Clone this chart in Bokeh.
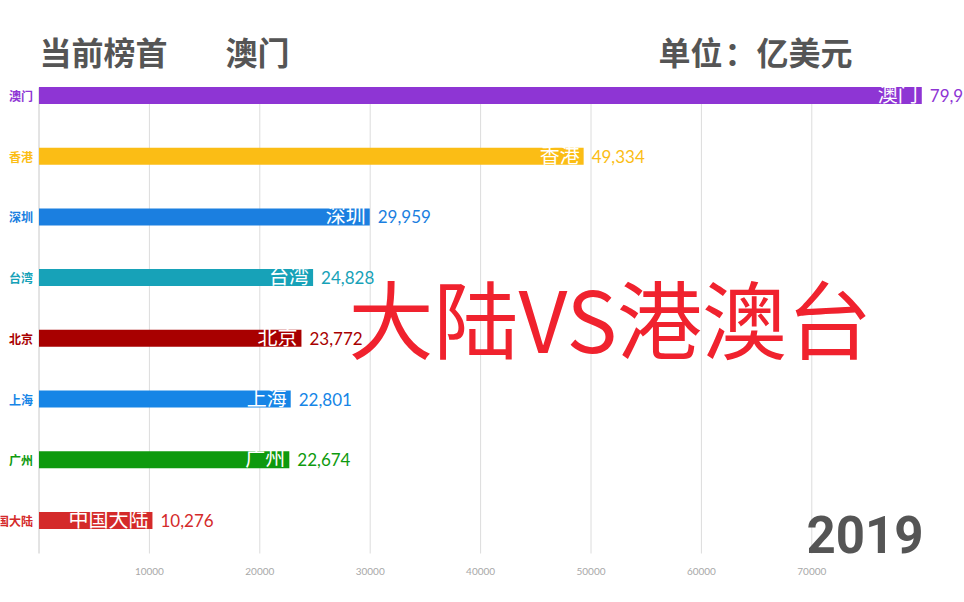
from bokeh.plotting import figure
from bokeh.models import Range1d, FixedTicker, ColumnDataSource
from bokeh.core.properties import value
from bokeh.embed import file_html
from bokeh.resources import INLINE

# ---- data ----
year = "2019"
leader = "澳门"
cities = ["澳门", "香港", "深圳", "台湾", "北京", "上海", "广州", "中国大陆"]
values = [79963, 49334, 29959, 24828, 23772, 22801, 22674, 10276]
colors = ["#8e35d4", "#fbbd15", "#1b7fe0", "#17a2b8", "#a80000", "#1685e6", "#0e9a0e", "#d42a2a"]
x_ticks = [10000, 20000, 30000, 40000, 50000, 60000, 70000]
title_left = "当前榜首"
unit_parts = ["单位", "：", "亿美元"]
big_text = "大陆VS港澳台"

CJK = "Noto Sans CJK SC"

# ---- layout helpers (pixel -> data) ----
W, H = 964, 602
FRAME_H = 560
X0_PX = 38.5
PX_PER_X = 110.4 / 10000.0
Y0_PX = 95.0
PX_PER_ROW = 60.7


def dx(px):
    return (px - X0_PX) / PX_PER_X


def dy(py):
    return (py - Y0_PX) / PX_PER_ROW


rows = list(range(len(cities)))
src = ColumnDataSource(dict(
    y=rows, v=values, c=colors, name=cities,
    vtxt=[f"{v:,}" for v in values],
    zero=[0] * len(cities),
))

p = figure(width=W, height=H, output_backend="svg", toolbar_location=None,
           x_range=Range1d(dx(0), dx(W)), y_range=Range1d(dy(FRAME_H), dy(0)),
           y_axis_location=None, min_border_left=0, min_border_right=0,
           min_border_top=0, min_border_bottom=H - FRAME_H)
p.outline_line_color = None
p.xgrid.grid_line_color = None
p.ygrid.grid_line_color = None
p.background_fill_color = "white"
p.border_fill_color = "white"

# x axis (tick labels only)
ax = p.xaxis[0]
ax.ticker = FixedTicker(ticks=x_ticks)
ax.axis_line_color = None
ax.major_tick_line_color = None
ax.minor_tick_line_color = None
ax.major_tick_in = 0
ax.major_tick_out = 0
ax.major_label_standoff = 7
ax.major_label_text_font = "Lato"
ax.major_label_text_font_size = "10px"
ax.major_label_text_color = "#a8a8a8"

# grid lines and base line
g_top, g_bot = dy(87), dy(553)
p.segment(x0=x_ticks, x1=x_ticks, y0=[g_top] * len(x_ticks), y1=[g_bot] * len(x_ticks),
          line_color="#dcdcdc", line_width=1)
p.segment(x0=[0], x1=[0], y0=[g_top], y1=[g_bot], line_color="#c8c8c8", line_width=1)

# bars
p.hbar(y="y", left="zero", right="v", height=17 / PX_PER_ROW, fill_color="c",
       line_color=None, source=src)

# category labels on the left
p.text(x="zero", y="y", text="name", text_color="c", text_align="right",
       text_baseline="middle", x_offset=-6, text_font=value(CJK),
       text_font_style="bold", text_font_size="12px", source=src)

# labels inside bars
p.text(x="v", y="y", text="name", text_color="white", text_align="right",
       text_baseline="middle", x_offset=-4, y_offset=-2, text_font=value(CJK),
       text_font_size="20px", source=src)

# value labels
p.text(x="v", y="y", text="vtxt", text_color="c", text_align="left",
       text_baseline="middle", x_offset=8, text_font=value("Lato"),
       text_font_size="17px", source=src)

# headings
head = dict(text_color="#555555", text_font=value(CJK), text_font_style="bold",
            text_font_size="32px", text_baseline="middle")
p.text(x=[dx(39)], y=[dy(50)], text=[title_left], text_align="left", **head)
p.text(x=[dx(225)], y=[dy(50)], text=[leader], text_align="left", **head)
p.text(x=[dx(658)], y=[dy(50)], text=[unit_parts[0]], text_align="left", **head)
p.text(x=[dx(740)], y=[dy(50)], text=[unit_parts[1]], text_align="center", **head)
p.text(x=[dx(756)], y=[dy(50)], text=[unit_parts[2]], text_align="left", **head)

# big overlay text
p.text(x=[dx(348)], y=[dy(315)], text=[big_text], text_color="#f0222e",
       text_font=value(CJK), text_font_size="85px",
       text_baseline="middle", text_align="left")

# year
p.text(x=[dx(923)], y=[dy(534)], text=[year], text_color="#555555",
       text_font=value("Roboto"), text_font_style="bold", text_font_size="51px",
       text_baseline="middle", text_align="right")

open("out.html", "w").write(file_html(p, INLINE))
